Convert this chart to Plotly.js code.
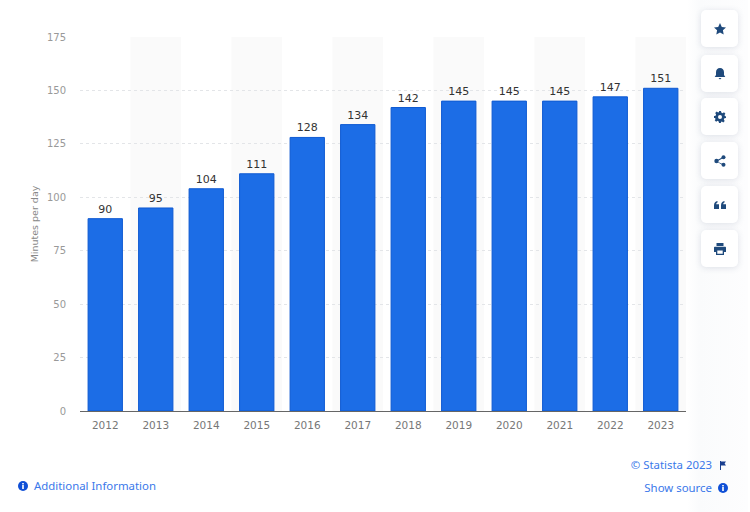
<!DOCTYPE html>
<html>
<head>
<meta charset="utf-8">
<script src="https://cdn.plot.ly/plotly-3.0.1.min.js"></script>
<style>
    html, body { margin: 0; padding: 0; background: #fff; overflow: hidden; }
    #chart { position: absolute; left: 0; top: 0; width: 750px; height: 512px; }
    .side { position: absolute; left: 701px; width: 37px; height: 37px; background: #fff; border-radius: 5px;
        box-shadow: 0 1px 6px rgba(60, 80, 120, 0.16); display: flex; align-items: center; justify-content: center; }
    .link { position: absolute; font: 11.4px "Noto Sans", sans-serif; color: #3a78ea; white-space: nowrap; line-height: 16px; }
    svg { display: block; }
    .panel { position: absolute; left: 687px; top: 0; width: 61px; height: 512px;
        background: linear-gradient(to right, #fff, #fafbfc 20%, #fdfdfe); }
</style>
</head>
<body>
<div id="chart"></div>
<div class="panel"></div>
<div id="buttons"></div>

<div class="link" style="left:34px;top:478px;">Additional Information</div>
<svg style="position:absolute;left:18px;top:481px" width="10" height="10" viewBox="0 0 10 10"><circle cx="5" cy="5" r="5" fill="#0f4fd6"/><rect x="4.2" y="4" width="1.6" height="4" fill="#fff"/><rect x="4.2" y="2" width="1.6" height="1.4" fill="#fff"/></svg>

<div class="link" style="right:38px;top:457px;">© Statista 2023</div>
<svg style="position:absolute;left:719px;top:461px" width="8" height="9" viewBox="0 0 8 9"><path d="M1 0h1v9H1zM2 .5h5L5.6 2.5 7 4.5H2z" fill="#1a3f8f"/></svg>

<div class="link" style="right:38px;top:480px;">Show source</div>
<svg style="position:absolute;left:718px;top:483px" width="10" height="10" viewBox="0 0 10 10"><circle cx="5" cy="5" r="5" fill="#0f4fd6"/><rect x="4.2" y="4" width="1.6" height="4" fill="#fff"/><rect x="4.2" y="2" width="1.6" height="1.4" fill="#fff"/></svg>

<script>
const years = ['2012', '2013', '2014', '2015', '2016', '2017', '2018', '2019', '2020', '2021', '2022', '2023'];
const minutes = [90, 95, 104, 111, 128, 134, 142, 145, 145, 145, 147, 151];
const yTicks = [0, 25, 50, 75, 100, 125, 150, 175];

// toolbar icons on the right, same order as the page
const icons = [
    '<path d="M6 0l1.8 3.9 4.2.5-3.1 2.9.8 4.2L6 9.4 2.3 11.500l.8-4.2L0 4.400l4.200-.5z"/>',
    '<path d="M6 0c2.500 0 4 1.800 4 4.200V7l1.300 2H.7L2 7V4.200C2 1.800 3.500 0 6 0zM4.500 10h3L6 11.500z"/>',
    '<path fill-rule="evenodd" d="M5 0h2l.3 1.600 1.300.6L10 1.300l1.400 1.400-.9 1.400.6 1.300L12 5v2l-1.600.3-.6 1.300.9 1.400L9.300 11.400l-1.400-.9-1 .6L6.900 12H5l-.3-1.600-1.200-.6-1.400.9L.700 9.300l.9-1.400-.6-.9L0 7V5l1.600-.3.500-1.300-.9-1.400L2.700.600l1.400.9 1-.6zM6 4a2 2 0 100 4 2 2 0 000-4z"/>',
    '<circle cx="2.500" cy="6" r="2.200"/><circle cx="9.500" cy="2.300" r="2"/><circle cx="9.500" cy="9.700" r="2"/><path d="M2.500 5.500L9.300 1.800l.4.900L3 6.500l6.700 3-.4.900L2.500 6.600z"/>',
    '<path d="M0 6.500C0 4 1.200 2.500 3.500 2v1.500C2.600 3.800 2.200 4.400 2.200 5.200H5V10H0zM7 6.500C7 4 8.200 2.500 10.500 2v1.500c-.9.300-1.300.9-1.300 1.700H12V10H7z"/>',
    '<path fill-rule="evenodd" d="M2.500 0h7v3h-7zM1 3.800h10c.6 0 1 .4 1 1V9h-2v3H2V9H0V4.800c0-.6.400-1 1-1zM3.300 7.500v3.200h5.400V7.500z"/>'
];
const iconTops = [10, 55, 98, 142, 186, 230];
document.getElementById('buttons').innerHTML = icons.map((p, i) =>
    `<div class="side" style="top:${iconTops[i]}px"><svg width="12" height="12" viewBox="0 0 12 12" fill="#1f4a7c">${p}</svg></div>`
).join('');

// every other year gets a light band behind the bars
const bands = years.map((y, i) => ({
    type: 'rect', layer: 'below', xref: 'x', yref: 'y',
    x0: i - 0.5, x1: i + 0.5, y0: 0, y1: 175,
    fillcolor: '#fafafa', line: { width: 0 }
})).filter((b, i) => i % 2 === 1);

const trace = {
    type: 'bar',
    x: years,
    y: minutes,
    text: minutes.map(String),
    textposition: 'outside',
    cliponaxis: false,
    textfont: { family: 'DejaVu Sans, sans-serif', size: 11, color: '#333' },
    marker: { color: '#1c6de6', line: { color: '#0f5ad2', width: 1 } },
    hoverinfo: 'x+y'
};

const layout = {
    width: 750,
    height: 512,
    margin: { l: 80, r: 64, t: 37, b: 101 },
    paper_bgcolor: '#fff',
    plot_bgcolor: '#fff',
    bargap: 0.32,
    showlegend: false,
    shapes: bands,
    xaxis: {
        type: 'category',
        tickfont: { family: 'DejaVu Sans, sans-serif', size: 10.5, color: '#777' },
        ticks: '',
        ticklen: 0,
        ticklabelstandoff: 4,
        showgrid: false,
        showline: true,
        linecolor: '#666',
        linewidth: 1,
        zeroline: false
    },
    yaxis: {
        range: [0, 175],
        tickvals: yTicks,
        ticktext: yTicks.map(String),
        tickfont: { family: 'DejaVu Sans, sans-serif', size: 10, color: '#999' },
        gridcolor: '#e3e5e8',
        gridwidth: 1,
        griddash: 'dot',
        zeroline: false,
        showline: false,
        ticklabelstandoff: 13,
        title: {
            text: 'Minutes per day',
            font: { family: 'DejaVu Sans, sans-serif', size: 9.5, color: '#888' },
            standoff: 6
        }
    }
};

Plotly.newPlot('chart', [trace], layout, { displayModeBar: false, responsive: false });
</script>
</body>
</html>
